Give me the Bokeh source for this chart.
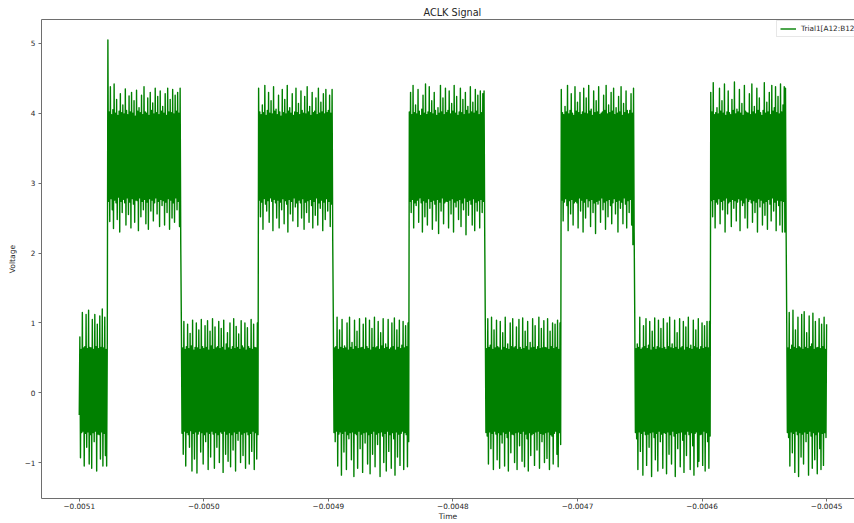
import numpy as np
from bokeh.plotting import figure
from bokeh.models import (ColumnDataSource, FixedTicker, CustomJSTickFormatter,
                          LinearAxis, Legend, LegendItem, Range1d)
from bokeh.embed import file_html
from bokeh.resources import INLINE

# Sampling of the captured ACLK trace
T_START = -0.0051
SAMPLE_PERIOD = 0.5e-6

# Captured voltage samples, one list per clock half-period (low / high)
seg_low_0 = [
    -0.32, 0.80, -0.93, 0.62, -0.57, 1.15, -0.55, 0.64, -1.05, 0.66,
    -0.58, 1.12, -0.78, 0.63, -0.56, 1.18, -1.02, 0.65, -0.60, 0.64,
    -1.08, 1.05, -0.57, 0.62, -0.70, 1.12, -0.55, 0.66, -1.12, 0.98,
    -0.59, 0.63, -0.60, 1.10, -0.95, 0.65, -0.56, 1.20, -1.05, 0.64,
    -0.58, 1.08, -0.90, 0.62, -1.05, 0.66]
seg_high_1 = [
    5.05, 2.74, 4.02, 2.45, 4.38, 2.78, 3.98, 2.62, 4.05, 2.35,
    4.42, 2.76, 4.00, 2.72, 4.20, 2.48, 3.97, 2.80, 4.03, 2.30,
    4.28, 2.74, 4.01, 2.58, 4.12, 2.77, 3.99, 2.72, 4.35, 2.40,
    4.04, 2.79, 3.98, 2.55, 4.25, 2.73, 4.02, 2.36, 4.30, 2.78,
    4.00, 2.70, 4.18, 2.44, 3.96, 2.76, 4.33, 2.75, 4.03, 2.32,
    4.08, 2.79, 4.01, 2.52, 4.26, 2.74, 3.98, 2.62, 4.38, 2.77,
    4.02, 2.42, 4.00, 2.73, 4.22, 2.34, 3.97, 2.78, 4.30, 2.60,
    4.04, 2.76, 4.15, 2.46, 3.99, 2.72, 4.36, 2.79, 4.01, 2.56,
    4.24, 2.74, 3.98, 2.38, 4.32, 2.77, 4.03, 2.68, 4.10, 2.75,
    4.00, 2.40, 4.28, 2.73, 3.97, 2.58, 4.36, 2.78, 4.02, 2.34,
    4.20, 2.76, 4.01, 2.50, 4.34, 2.72, 3.99, 2.44, 4.26, 2.79,
    4.03, 2.62, 4.30, 2.74, 4.00, 2.38, 4.36, 2.13]
seg_low_2 = [
    0.95, -0.58, 0.64, -0.88, 1.02, -0.55, 0.62, -1.05, 0.66, -0.57,
    0.98, -0.60, 0.63, -0.78, 0.85, -0.54, 0.67, -1.12, 1.04, -0.58,
    0.61, -0.95, 0.65, -0.56, 1.00, -1.15, 0.64, -0.59, 0.90, -0.55,
    0.62, -0.85, 1.05, -0.57, 0.66, -1.02, 0.63, -0.60, 0.96, -0.70,
    0.65, -0.56, 1.03, -1.10, 0.61, -0.58, 0.88, -0.92, 0.67, -0.55,
    1.06, -0.59, 0.62, -1.08, 0.94, -0.57, 0.64, -0.78, 0.66, -0.60,
    1.02, -1.00, 0.63, -0.56, 0.92, -0.58, 0.65, -1.14, 1.04, -0.55,
    0.61, -0.88, 0.70, -0.59, 0.86, -0.98, 0.64, -0.57, 1.00, -1.06,
    0.62, -0.60, 0.66, -0.82, 1.06, -0.56, 0.63, -1.12, 0.95, -0.58,
    0.65, -0.68, 0.84, -0.55, 0.62, -1.00, 1.03, -0.59, 0.67, -0.90,
    0.64, -0.57, 1.00, -1.08, 0.61, -0.56, 0.93, -0.60, 0.66, -1.02,
    0.63, -0.58, 1.05, -0.84, 0.62, -0.55, 0.98, -1.10, 0.65, -0.57,
    0.64, -0.95, 1.00, -0.60]
seg_high_3 = [
    4.36, 2.76, 4.02, 2.52, 3.98, 2.73, 4.12, 2.34, 4.01, 2.78,
    4.40, 2.70, 3.97, 2.60, 4.04, 2.75, 4.30, 2.44, 4.00, 2.79,
    4.18, 2.74, 3.99, 2.32, 4.38, 2.77, 4.03, 2.72, 4.06, 2.50,
    3.98, 2.76, 4.26, 2.36, 4.02, 2.73, 3.96, 2.62, 4.34, 2.78,
    4.01, 2.42, 4.20, 2.75, 3.99, 2.70, 4.40, 2.30, 4.03, 2.77,
    4.08, 2.56, 4.00, 2.74, 4.28, 2.46, 3.97, 2.79, 4.02, 2.66,
    4.36, 2.72, 4.01, 2.38, 4.14, 2.76, 3.98, 2.72, 4.32, 2.50,
    4.04, 2.78, 4.00, 2.34, 4.24, 2.73, 3.99, 2.58, 4.38, 2.75,
    4.02, 2.44, 4.10, 2.77, 3.97, 2.68, 4.30, 2.36, 4.01, 2.74,
    4.03, 2.54, 4.22, 2.79, 3.98, 2.40, 4.36, 2.72, 4.00, 2.64,
    4.16, 2.76, 4.02, 2.32, 4.28, 2.73, 3.99, 2.48, 4.34, 2.78,
    4.01, 2.60, 4.04, 2.74, 4.26, 2.38, 4.00, 2.70, 4.34, 2.19]
seg_low_4 = [
    1.02, -0.57, 0.64, -0.70, 0.66, -0.55, 1.08, -1.05, 0.62, -0.59,
    0.90, -0.56, 0.65, -1.18, 1.05, -0.58, 0.63, -0.85, 0.67, -0.55,
    0.64, -1.10, 1.00, -0.60, 0.61, -0.66, 1.08, -0.57, 0.65, -0.96,
    0.72, -0.56, 0.62, -1.20, 1.04, -0.58, 0.66, -0.60, 0.88, -1.08,
    0.63, -0.55, 1.06, -0.80, 0.64, -0.59, 0.65, -1.14, 0.98, -0.57,
    0.62, -0.72, 1.07, -0.56, 0.66, -1.02, 0.63, -0.60, 1.04, -1.16,
    0.61, -0.58, 0.92, -0.88, 0.65, -0.55, 1.08, -1.06, 0.64, -0.59,
    0.66, -0.74, 1.02, -0.57, 0.62, -1.20, 0.86, -0.56, 0.67, -0.62,
    1.06, -1.00, 0.63, -0.58, 0.70, -1.12, 0.65, -0.55, 1.05, -0.84,
    0.62, -0.60, 0.64, -1.08, 1.00, -0.57, 0.66, -0.66, 1.07, -1.18,
    0.61, -0.56, 0.90, -0.92, 0.65, -0.59, 1.04, -1.04, 0.63, -0.58,
    0.68, -0.55, 1.02, -1.10, 0.64, -0.57, 0.96, -0.60, 0.66, -1.06,
    1.00, -0.70]
seg_high_5 = [
    4.02, 2.74, 4.30, 2.58, 3.98, 2.77, 4.40, 2.36, 4.01, 2.72,
    4.12, 2.68, 3.99, 2.76, 4.34, 2.44, 4.03, 2.79, 3.97, 2.72,
    4.06, 2.30, 4.26, 2.75, 4.00, 2.52, 4.42, 2.73, 3.98, 2.40,
    4.02, 2.78, 4.38, 2.64, 4.01, 2.74, 4.18, 2.34, 3.99, 2.76,
    4.30, 2.70, 4.04, 2.46, 3.97, 2.77, 4.08, 2.28, 4.00, 2.73,
    4.40, 2.60, 4.02, 2.79, 4.22, 2.42, 3.98, 2.72, 4.36, 2.74,
    4.01, 2.74, 4.04, 2.36, 4.32, 2.76, 3.99, 2.56, 4.14, 2.78,
    4.03, 2.30, 4.40, 2.73, 4.00, 2.66, 4.24, 2.75, 3.97, 2.48,
    4.02, 2.77, 4.36, 2.38, 4.01, 2.72, 4.20, 2.62, 3.98, 2.79,
    4.30, 2.26, 4.04, 2.74, 4.10, 2.54, 3.99, 2.76, 4.38, 2.70,
    4.02, 2.40, 4.16, 2.78, 4.00, 2.32, 4.34, 2.73, 4.03, 2.60,
    4.26, 2.75, 3.98, 2.36, 4.32, 2.77, 4.01, 2.58, 4.28, 2.74,
    4.32, 2.36]
seg_low_6 = [
    0.98, -0.57, 0.63, -0.62, 1.06, -1.02, 0.65, -0.56, 0.68, -0.80,
    1.08, -0.58, 0.62, -1.10, 0.90, -0.55, 0.64, -0.59, 1.04, -0.96,
    0.66, -0.57, 0.64, -1.08, 1.02, -0.60, 0.61, -0.72, 0.86, -0.56,
    0.65, -1.05, 1.08, -0.58, 0.63, -0.64, 0.70, -1.12, 0.62, -0.55,
    1.00, -0.86, 0.66, -0.59, 1.06, -0.60, 0.64, -1.00, 0.66, -0.57,
    0.94, -1.10, 0.62, -0.56, 1.05, -0.76, 0.65, -0.58, 0.62, -0.98,
    1.07, -0.55, 0.63, -1.06, 0.88, -0.59, 0.66, -0.66, 1.02, -1.12,
    0.61, -0.57, 0.72, -0.90, 0.64, -0.60, 1.06, -0.58, 0.65, -1.04,
    0.96, -0.56, 0.62, -0.82, 0.66, -0.55, 1.08, -1.08, 0.63, -0.58,
    0.92, -0.70, 0.64, -0.59, 1.03, -1.00, 0.65, -0.57, 0.64, -0.94,
    1.06, -0.56, 0.62, -1.10, 0.88, -0.60, 0.66, -0.62, 1.00, -1.02,
    0.63, -0.58, 0.98, -0.55, 0.65, -0.88, 1.04, -1.06, 0.62, -0.57,
    1.00, -0.74]
seg_high_7 = [
    4.34, 2.76, 4.01, 2.46, 3.98, 2.73, 4.10, 2.78, 4.02, 2.68,
    4.40, 2.32, 3.99, 2.75, 4.04, 2.56, 4.28, 2.77, 4.00, 2.40,
    3.97, 2.72, 4.38, 2.74, 4.03, 2.72, 4.16, 2.36, 4.01, 2.79,
    4.30, 2.60, 3.98, 2.76, 4.02, 2.30, 4.36, 2.73, 4.00, 2.50,
    4.22, 2.78, 3.99, 2.66, 4.40, 2.75, 4.03, 2.38, 4.06, 2.77,
    3.97, 2.58, 4.32, 2.72, 4.01, 2.28, 4.18, 2.74, 4.02, 2.70,
    4.38, 2.76, 3.98, 2.44, 4.00, 2.79, 4.02, 2.62, 4.26, 2.73,
    4.04, 2.34, 4.40, 2.75, 3.99, 2.52, 4.12, 2.77, 4.01, 2.68,
    4.30, 2.42, 4.03, 2.72, 4.36, 2.78, 3.98, 2.56, 4.08, 2.74,
    4.00, 2.30, 4.24, 2.76, 4.02, 2.64, 4.38, 2.73, 3.97, 2.42,
    4.14, 2.79, 4.01, 2.70, 4.32, 2.36, 4.04, 2.75, 3.99, 2.58,
    4.04, 2.77, 4.28, 2.40, 4.00, 2.12, 4.36, 2.30]
seg_low_8 = [
    1.04, -0.57, 0.63, -0.66, 0.70, -1.10, 0.65, -0.56, 1.08, -0.84,
    0.62, -0.58, 0.64, -1.18, 0.96, -0.55, 0.66, -0.60, 1.06, -1.04,
    0.63, -0.59, 0.68, -0.78, 1.02, -0.57, 0.61, -1.20, 0.88, -0.56,
    0.65, -0.64, 1.07, -0.96, 0.62, -0.58, 0.66, -1.12, 1.04, -0.55,
    0.64, -0.70, 0.92, -0.59, 0.63, -1.08, 1.06, -0.57, 0.65, -0.58,
    0.62, -1.16, 1.00, -0.56, 0.66, -0.88, 1.08, -0.60, 0.64, -1.02,
    0.70, -0.55, 0.63, -0.62, 1.04, -1.20, 0.65, -0.58, 0.86, -0.80,
    0.62, -0.57, 1.06, -1.06, 0.64, -0.56, 0.66, -0.68, 1.02, -1.14,
    0.61, -0.59, 0.94, -0.90, 0.65, -0.55, 1.08, -0.60, 0.63, -1.10,
    0.68, -0.57, 0.62, -0.76, 1.04, -1.18, 0.66, -0.58, 0.90, -0.56,
    0.64, -1.06, 1.06, -0.98, 0.62, -0.60, 0.66, -0.59, 1.00, -1.04,
    0.63, -0.55, 0.96, -1.12, 0.65, -0.57, 1.02, -0.70, 0.64, -1.08,
    1.02, -0.62]
seg_high_9 = [
    4.30, 2.75, 4.02, 2.52, 4.44, 2.77, 3.98, 2.36, 4.01, 2.73,
    4.08, 2.70, 3.99, 2.78, 4.36, 2.42, 4.03, 2.74, 4.18, 2.62,
    4.00, 2.76, 4.42, 2.30, 3.97, 2.79, 4.02, 2.56, 4.32, 2.72,
    4.01, 2.74, 3.98, 2.38, 4.20, 2.77, 4.04, 2.64, 4.45, 2.75,
    3.99, 2.46, 4.06, 2.73, 4.02, 2.78, 4.34, 2.32, 4.00, 2.76,
    4.14, 2.68, 3.97, 2.72, 4.40, 2.50, 4.03, 2.79, 4.01, 2.36,
    4.00, 2.74, 4.28, 2.77, 3.98, 2.72, 4.42, 2.44, 4.02, 2.75,
    4.10, 2.58, 3.99, 2.73, 4.36, 2.30, 4.04, 2.78, 4.22, 2.66,
    4.01, 2.76, 3.97, 2.40, 4.04, 2.72, 4.44, 2.54, 4.00, 2.74,
    4.16, 2.34, 4.02, 2.77, 4.30, 2.70, 3.98, 2.46, 4.40, 2.79,
    4.03, 2.60, 4.08, 2.73, 4.38, 2.32, 4.01, 2.76, 4.24, 2.68,
    3.99, 2.40, 4.42, 2.75, 4.02, 2.30, 4.12, 2.74, 4.38, 2.30,
    4.36, 2.32]
seg_low_10 = [
    1.00, -0.57, 0.64, -0.64, 1.15, -1.05, 0.62, -0.56, 0.68, -0.86,
    1.18, -0.58, 0.65, -1.14, 0.90, -0.55, 0.63, -0.60, 1.08, -1.20,
    0.66, -0.57, 0.64, -0.92, 1.12, -0.59, 0.62, -1.02, 1.16, -0.56,
    0.65, -0.70, 0.86, -0.58, 0.63, -1.18, 1.10, -0.55, 0.66, -0.62,
    0.70, -1.08, 1.14, -0.57, 0.62, -0.96, 1.02, -0.60, 0.64, -1.16,
    0.65, -0.56, 1.06, -0.80, 0.63, -1.10, 0.98, -0.58, 0.66, -1.04,
    1.08, -0.57, 0.62, -0.64, 0.98]

x_ticks = [-0.0051, -0.0050, -0.0049, -0.0048, -0.0047, -0.0046, -0.0045]
y_ticks = [-1, 0, 1, 2, 3, 4, 5]
series_label = "Trial1[A12:B12"

segments = [seg_low_0, seg_high_1, seg_low_2, seg_high_3, seg_low_4, seg_high_5,
            seg_low_6, seg_high_7, seg_low_8, seg_high_9, seg_low_10]
voltage = np.concatenate([np.asarray(s, dtype=float) for s in segments])
time = T_START + np.arange(len(voltage)) * SAMPLE_PERIOD
source = ColumnDataSource(data=dict(t=time, v=voltage))

FONT = "DejaVu Sans"
TEXT = "#262626"
SPINE = "#6e6e6e"

p = figure(width=854, height=523, output_backend="svg", toolbar_location=None,
           x_range=Range1d(-0.0051303, -0.0044776), y_range=Range1d(-1.514, 5.343),
           min_border_left=41, min_border_right=0, min_border_top=19, min_border_bottom=24,
           background_fill_color="white", border_fill_color="white")
p.outline_line_color = None
p.grid.visible = False

p.title.text = "ACLK Signal"
p.title.align = "left"
p.title.offset = 382
p.title.standoff = 3
p.title.text_font = FONT
p.title.text_font_size = "9.7px"
p.title.text_font_style = "normal"
p.title.text_color = TEXT

minus_fmt4 = CustomJSTickFormatter(code="return tick.toFixed(4).replace('-', '\\u2212');")
minus_fmt0 = CustomJSTickFormatter(code="return tick.toFixed(0).replace('-', '\\u2212');")

for ax in (p.xaxis[0], p.yaxis[0]):
    ax.axis_line_color = SPINE
    ax.axis_line_width = 1
    ax.major_tick_line_color = SPINE
    ax.major_tick_out = 3
    ax.major_tick_in = 0
    ax.minor_tick_line_color = None
    ax.major_label_text_font = FONT
    ax.major_label_text_font_size = "7.3px"
    ax.major_label_text_color = TEXT
    ax.axis_label_text_font = FONT
    ax.axis_label_text_font_size = "7.6px"
    ax.axis_label_text_font_style = "normal"
    ax.axis_label_text_color = TEXT

p.xaxis.ticker = FixedTicker(ticks=x_ticks)
p.xaxis.formatter = minus_fmt4
p.xaxis.axis_label = "Time"
p.xaxis.major_label_standoff = 1
p.xaxis.axis_label_standoff = 0

p.yaxis.ticker = FixedTicker(ticks=y_ticks)
p.yaxis.formatter = minus_fmt0
p.yaxis.axis_label = "Voltage"
p.yaxis.major_label_standoff = 3
p.yaxis.axis_label_standoff = 5

# top spine only (no right spine inside the window)
top_spine = LinearAxis(ticker=FixedTicker(ticks=[]), axis_line_color=SPINE,
                       major_tick_line_color=None, minor_tick_line_color=None,
                       major_tick_out=0, major_tick_in=0, minor_tick_out=0,
                       major_label_text_font_size="0px", major_label_standoff=0)
p.add_layout(top_spine, "above")

r = p.line("t", "v", source=source, line_color="#008000", line_width=1.4,
           line_join="round")

legend = Legend(items=[LegendItem(label=series_label, renderers=[r])],
                location=(735, 461), orientation="vertical",
                padding=3, margin=0, spacing=0,
                glyph_width=16, glyph_height=7, label_height=7, label_standoff=5,
                label_text_font=FONT, label_text_font_size="7.3px",
                label_text_color=TEXT,
                border_line_color="#cfcfcf", border_line_width=1,
                background_fill_color="white", background_fill_alpha=0.8)
p.add_layout(legend)

open("out.html", "w").write(file_html(p, INLINE))
